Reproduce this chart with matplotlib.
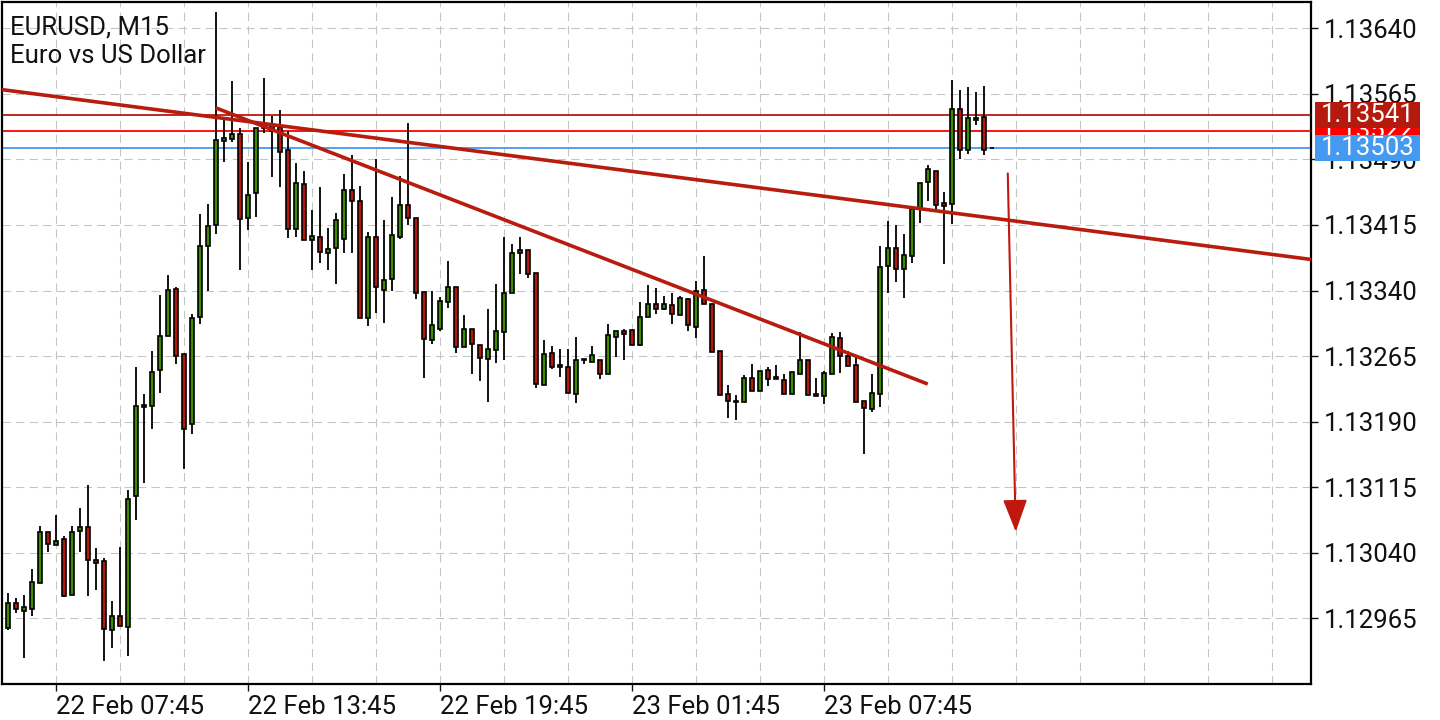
import numpy as np
import matplotlib
matplotlib.use('Agg')
import matplotlib.pyplot as plt
import matplotlib.transforms as mtrans
from matplotlib.patches import Rectangle

plt.rcParams['font.family'] = ['Roboto', 'DejaVu Sans']

# EURUSD M15 candles, first one is 22 Feb 06:15
opens = [
    1.12954, 1.12982, 1.12973, 1.12976, 1.13005, 1.13064, 1.13049, 1.13056, 1.12992, 1.13065,
    1.13069, 1.13032, 1.13030, 1.12952, 1.12968, 1.12955, 1.13105, 1.13207, 1.13208, 1.13249,
    1.13288, 1.13342, 1.13267, 1.13187, 1.13310, 1.13391, 1.13415, 1.13511, 1.13513, 1.13519,
    1.13423, 1.13451, 1.13526, 1.13529, 1.13527, 1.13501, 1.13410, 1.13462, 1.13398, 1.13401,
    1.13383, 1.13389, 1.13399, 1.13455, 1.13442, 1.13309, 1.13401, 1.13341, 1.13353, 1.13401,
    1.13438, 1.13423, 1.13338, 1.13283, 1.13296, 1.13327, 1.13344, 1.13275, 1.13296, 1.13278,
    1.13262, 1.13272, 1.13292, 1.13337, 1.13386, 1.13386, 1.13360, 1.13232, 1.13269, 1.13255,
    1.13252, 1.13222, 1.13262, 1.13258, 1.13260, 1.13244, 1.13287, 1.13294, 1.13295, 1.13278,
    1.13310, 1.13325, 1.13319, 1.13323, 1.13312, 1.13330, 1.13298, 1.13341, 1.13325, 1.13271,
    1.13222, 1.13214, 1.13212, 1.13240, 1.13225, 1.13249, 1.13241, 1.13238, 1.13222, 1.13245,
    1.13260, 1.13222, 1.13219, 1.13245, 1.13286, 1.13265, 1.13255, 1.13214, 1.13205, 1.13222,
    1.13368, 1.13389, 1.13365, 1.13380, 1.13433, 1.13464, 1.13477, 1.13440, 1.13439, 1.13548,
    1.13501, 1.13535, 1.13538, 1.13503]
highs = [
    1.12994, 1.12988, 1.12992, 1.13021, 1.13071, 1.13064, 1.13083, 1.13059, 1.13071, 1.13091,
    1.13117, 1.13045, 1.13034, 1.12985, 1.13047, 1.13112, 1.13252, 1.13222, 1.13271, 1.13335,
    1.13358, 1.13344, 1.13267, 1.13313, 1.13428, 1.13439, 1.13659, 1.13537, 1.13580, 1.13526,
    1.13487, 1.13526, 1.13583, 1.13540, 1.13547, 1.13522, 1.13486, 1.13477, 1.13432, 1.13458,
    1.13412, 1.13429, 1.13473, 1.13495, 1.13460, 1.13407, 1.13490, 1.13421, 1.13447, 1.13471,
    1.13532, 1.13423, 1.13338, 1.13340, 1.13333, 1.13374, 1.13344, 1.13312, 1.13296, 1.13278,
    1.13319, 1.13347, 1.13401, 1.13393, 1.13401, 1.13386, 1.13360, 1.13283, 1.13277, 1.13273,
    1.13273, 1.13287, 1.13262, 1.13277, 1.13260, 1.13302, 1.13294, 1.13296, 1.13295, 1.13327,
    1.13346, 1.13343, 1.13334, 1.13337, 1.13334, 1.13331, 1.13351, 1.13379, 1.13325, 1.13271,
    1.13232, 1.13221, 1.13243, 1.13256, 1.13248, 1.13252, 1.13255, 1.13245, 1.13247, 1.13292,
    1.13260, 1.13240, 1.13248, 1.13291, 1.13292, 1.13271, 1.13266, 1.13214, 1.13244, 1.13391,
    1.13419, 1.13415, 1.13405, 1.13433, 1.13463, 1.13484, 1.13477, 1.13453, 1.13581, 1.13569,
    1.13573, 1.13567, 1.13574, 1.13503]
lows = [
    1.12952, 1.12971, 1.12920, 1.12968, 1.13005, 1.13041, 1.13049, 1.12989, 1.12992, 1.13041,
    1.12990, 1.12997, 1.12916, 1.12931, 1.12956, 1.12922, 1.13078, 1.13120, 1.13181, 1.13223,
    1.13288, 1.13256, 1.13136, 1.13176, 1.13302, 1.13340, 1.13405, 1.13487, 1.13510, 1.13363,
    1.13409, 1.13424, 1.13520, 1.13470, 1.13458, 1.13400, 1.13401, 1.13398, 1.13363, 1.13371,
    1.13363, 1.13348, 1.13383, 1.13383, 1.13309, 1.13299, 1.13314, 1.13303, 1.13339, 1.13399,
    1.13415, 1.13330, 1.13240, 1.13279, 1.13294, 1.13320, 1.13269, 1.13275, 1.13244, 1.13237,
    1.13212, 1.13257, 1.13260, 1.13337, 1.13359, 1.13354, 1.13228, 1.13232, 1.13250, 1.13241,
    1.13223, 1.13211, 1.13256, 1.13258, 1.13239, 1.13244, 1.13264, 1.13261, 1.13278, 1.13277,
    1.13310, 1.13313, 1.13318, 1.13302, 1.13312, 1.13294, 1.13286, 1.13325, 1.13270, 1.13221,
    1.13194, 1.13192, 1.13212, 1.13225, 1.13225, 1.13231, 1.13239, 1.13222, 1.13222, 1.13245,
    1.13220, 1.13219, 1.13210, 1.13245, 1.13246, 1.13254, 1.13213, 1.13153, 1.13201, 1.13207,
    1.13337, 1.13350, 1.13331, 1.13371, 1.13417, 1.13442, 1.13433, 1.13370, 1.13416, 1.13491,
    1.13496, 1.13529, 1.13495, 1.13503]
closes = [
    1.12982, 1.12976, 1.12978, 1.13006, 1.13064, 1.13050, 1.13053, 1.12991, 1.13064, 1.13069,
    1.13032, 1.13028, 1.12953, 1.12968, 1.12956, 1.13102, 1.13208, 1.13209, 1.13247, 1.13288,
    1.13341, 1.13265, 1.13182, 1.13308, 1.13391, 1.13414, 1.13512, 1.13514, 1.13519, 1.13422,
    1.13449, 1.13526, 1.13531, 1.13523, 1.13499, 1.13410, 1.13463, 1.13398, 1.13402, 1.13384,
    1.13387, 1.13421, 1.13455, 1.13442, 1.13309, 1.13401, 1.13344, 1.13352, 1.13403, 1.13438,
    1.13423, 1.13337, 1.13285, 1.13300, 1.13328, 1.13344, 1.13275, 1.13296, 1.13279, 1.13263,
    1.13273, 1.13294, 1.13337, 1.13383, 1.13383, 1.13359, 1.13233, 1.13267, 1.13252, 1.13253,
    1.13223, 1.13261, 1.13260, 1.13266, 1.13245, 1.13289, 1.13294, 1.13290, 1.13278, 1.13310,
    1.13325, 1.13319, 1.13324, 1.13313, 1.13332, 1.13301, 1.13339, 1.13325, 1.13270, 1.13221,
    1.13214, 1.13212, 1.13240, 1.13225, 1.13248, 1.13239, 1.13239, 1.13222, 1.13247, 1.13261,
    1.13220, 1.13219, 1.13246, 1.13287, 1.13265, 1.13254, 1.13213, 1.13206, 1.13223, 1.13367,
    1.13389, 1.13365, 1.13381, 1.13433, 1.13463, 1.13479, 1.13438, 1.13437, 1.13548, 1.13501,
    1.13537, 1.13537, 1.13501, 1.13503]

xtick_pos = [6, 30, 54, 78, 102]
xtick_labels = ['22 Feb 07:45', '22 Feb 13:45', '22 Feb 19:45', '23 Feb 01:45', '23 Feb 07:45']
ytick_vals = [1.12965, 1.13040, 1.13115, 1.13190, 1.13265,
              1.13340, 1.13415, 1.13490, 1.13565, 1.13640]

# drawn objects (candle index, price)
trend_long = [(0, 1.13569), (160, 1.13379)]
trend_short = [(26, 1.13549), (115, 1.13233)]
level_prices = [1.13541, 1.13522, 1.13503]
level_colors = ['#b51a0e', '#ff0000', '#4499f0']
arrow_from = (125, 1.13474)
arrow_to = (126, 1.13064)

FS = 18.5
W, H = 1440, 720
fig = plt.figure(figsize=(W / 100, H / 100), dpi=100)
ax = fig.add_axes([2 / W, 36 / H, 1309 / W, 682 / H])
ax.set_xlim(-0.71, 162.9)
ax.set_ylim(1.128898, 1.136701)

x = np.arange(len(opens))
o = np.array(opens)
c = np.array(closes)
body_bot = np.minimum(o, c)
body_h = np.maximum(np.abs(c - o), 0.000004)
cols = ['#3c8c00' if cc >= oo else '#b8170b' for oo, cc in zip(o, c)]

ax.vlines(x, lows, highs, color='black', lw=1.3, zorder=3)
ax.bar(x, body_h, width=0.5, bottom=body_bot, color=cols,
       edgecolor='black', linewidth=1.2, zorder=4)

# trend lines
red = '#b71c0e'
ax.axline(trend_long[0], trend_long[1], color=red, lw=2.6, zorder=5)
ax.plot([p[0] for p in trend_short], [p[1] for p in trend_short],
        color=red, lw=2.6, zorder=5, solid_capstyle='butt')

for p, col in zip(level_prices, level_colors):
    ax.axhline(p, color=col, lw=1.3, zorder=2)

ax.annotate('', xy=arrow_to, xytext=arrow_from,
            arrowprops=dict(arrowstyle='-|>,head_length=2.0,head_width=0.75',
                            mutation_scale=10, color='#c0170f', lw=1.5,
                            shrinkA=0, shrinkB=0), zorder=5)

# axes look
ax.set_xticks(xtick_pos)
ax.set_xticklabels(xtick_labels)
ax.set_xticks(np.arange(6, 163, 8), minor=True)
for lbl in ax.get_xticklabels():
    lbl.set_ha('left')
ax.set_yticks(ytick_vals)
ax.set_yticklabels(['%.5f' % v for v in ytick_vals])
ax.yaxis.tick_right()
ax.tick_params(axis='both', labelsize=FS, colors='#111111', length=5, width=1)
ax.tick_params(axis='x', which='minor', length=0)
ax.tick_params(axis='y', pad=4)
ax.tick_params(axis='x', pad=3)
ax.grid(axis='x', which='both', color='#c4c4c4', lw=0.75, linestyle=(0, (8, 5)))
ax.grid(axis='y', which='major', color='#c4c4c4', lw=0.75, linestyle=(0, (8, 5)))
ax.set_axisbelow(True)
for s in ax.spines.values():
    s.set_linewidth(1.6)
    s.set_color('black')

# price label boxes on the right
blend = mtrans.blended_transform_factory(ax.transAxes, ax.transData)
box_h = 26 * (1.136701 - 1.128898) / 682
order = [(1, 4), (0, 6), (2, 6)]
for k, z in order:
    p = level_prices[k]
    ax.add_patch(Rectangle((1 + 4 / 1309, p - box_h / 2), 105 / 1309, box_h,
                           transform=blend, facecolor=level_colors[k],
                           edgecolor='none', clip_on=False, zorder=z))
    ax.text(1 + 10 / 1309, p, '%.5f' % p, transform=blend, color='white',
            fontsize=FS, va='center', ha='left', clip_on=False, zorder=z + 0.5)

fig.text(10 / W, 1 - 28 / H, 'EURUSD, M15', fontsize=FS, va='center', color='#111111')
fig.text(10 / W, 1 - 56 / H, 'Euro vs US Dollar', fontsize=FS, va='center', color='#111111')

fig.savefig('out.png', dpi=100)
